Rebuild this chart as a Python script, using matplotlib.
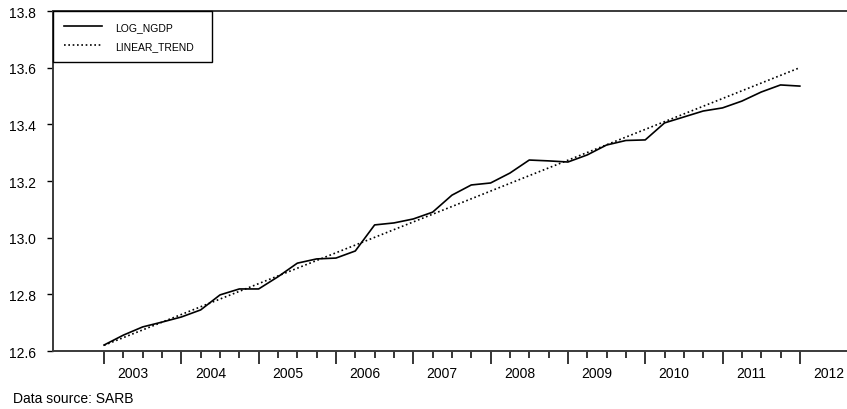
import matplotlib
matplotlib.use("Agg")
import matplotlib.pyplot as plt
from matplotlib.ticker import FixedLocator
import matplotlib.transforms as mtransforms

plt.rcParams['font.family'] = ['Liberation Sans', 'DejaVu Sans']

# Quarterly data, 2003Q1 .. 2012Q1
years = [2003, 2004, 2005, 2006, 2007, 2008, 2009, 2010, 2011, 2012]
log_ngdp = [12.621, 12.656, 12.685, 12.702, 12.720, 12.745, 12.798, 12.819, 12.819,
            12.862, 12.910, 12.925, 12.928, 12.953, 13.045, 13.052, 13.066, 13.090,
            13.150, 13.186, 13.193, 13.228, 13.274, 13.271, 13.267, 13.292, 13.327,
            13.343, 13.345, 13.405, 13.426, 13.447, 13.458, 13.482, 13.514, 13.539,
            13.535]
trend_ends = [12.620, 13.600]
y_ticks = [12.6, 12.8, 13.0, 13.2, 13.4, 13.6, 13.8]

n = len(log_ngdp)
q = list(range(n))
trend_q = [q[0], q[-1]]

W, H = 847, 410
fig = plt.figure(figsize=(W / 100, H / 100), dpi=100)
left, right, top, bottom = 53, 847, 12, 352
ax = fig.add_axes([left / W, 1 - bottom / H, (right - left) / W, (bottom - top) / H])

ax.plot(q, log_ngdp, color='black', lw=1.2, label='LOG_NGDP')
ax.plot(trend_q, trend_ends, color='black', lw=1.2, linestyle=(0, (1, 1.6)), label='LINEAR_TREND')

ax.set_xlim(-2.64, 38.44)
ax.set_ylim(12.6, 13.8)

# spines
for s in ['left', 'top', 'bottom']:
    ax.spines[s].set_color('#3a3a3a')
    ax.spines[s].set_linewidth(1.4)
ax.spines['right'].set_visible(False)

ax.yaxis.set_major_locator(FixedLocator(y_ticks))
ax.set_yticklabels([f"{v:.1f}" for v in y_ticks])
ax.tick_params(axis='y', direction='out', length=4, width=1, pad=8, labelsize=10, colors='black')

ax.xaxis.set_major_locator(FixedLocator(list(range(0, n, 4))))
ax.xaxis.set_minor_locator(FixedLocator([i for i in q if i % 4 != 0]))
ax.set_xticklabels([])
ax.tick_params(axis='x', which='major', direction='out', length=9, width=1.1)
ax.tick_params(axis='x', which='minor', direction='out', length=5, width=1.1)

trans = mtransforms.blended_transform_factory(ax.transData, ax.transAxes)
for i, yr in enumerate(years):
    ax.text(4 * i + 1.5, -22 / (bottom - top), str(yr), transform=trans,
            ha='center', va='center', fontsize=10)

leg_w = (212 - left) / (right - left)
leg = ax.legend(loc='upper left', bbox_to_anchor=(0, 1, leg_w, 0), mode='expand', borderaxespad=0,
                fancybox=False, framealpha=1, edgecolor='black', fontsize=7.5,
                handlelength=3.7, handletextpad=1.25, borderpad=1.05, labelspacing=0.85)
leg.get_frame().set_linewidth(1.0)

fig.text(13 / W, 1 - 399 / H, 'Data source: SARB', ha='left', va='center', fontsize=10)

fig.savefig('out.png', dpi=100)
